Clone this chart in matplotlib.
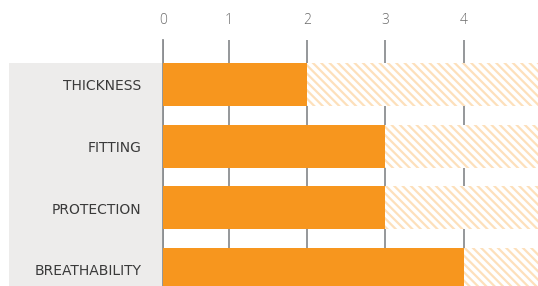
import matplotlib.pyplot as plt
from matplotlib.patches import Rectangle
from matplotlib.transforms import ScaledTranslation

categories = ['THICKNESS', 'FITTING', 'PROTECTION', 'BREATHABILITY']
scores = [2, 3, 3, 4]
max_score = 5
tick_values = [1, 2, 3, 4]
tick_labels = ['0', '1', '2', '3', '4']

plt.rcParams['hatch.linewidth'] = 1.6

W, H = 538, 286
fig = plt.figure(figsize=(W / 100, H / 100), dpi=100)

# gray label panel behind the category names
fig.patches.append(Rectangle((9 / W, 0), (163 - 9) / W, (H - 63) / H,
                             transform=fig.transFigure, facecolor='#edeceb',
                             edgecolor='none', zorder=-1))

ax = fig.add_axes([163 / W, 0, 1 - 163 / W, (H - 40) / H])
ax.patch.set_alpha(0)

y = range(len(categories))
bar_h = 43 / 61.6

# hatched "rest of the scale" background
ax.barh(y, [max_score] * len(categories), height=bar_h, color='white',
        edgecolor='#fde0bb', linewidth=0, hatch='\\\\\\\\', zorder=2)
ax.barh(y, scores, height=bar_h, color='#f7961e', linewidth=0, zorder=3)

x_left = (163 - 150.5) / 78.3
x_right = (538 - 150.5) / 78.3
ax.set_xlim(x_left, x_right)
ax.set_ylim(3 + 16.7 / 61.6, -44.5 / 61.6)

ax.xaxis.tick_top()
ax.set_xticks([x_left] + tick_values)
ax.set_xticklabels(tick_labels, fontsize=10, color='#6b6b6b',
                   family='Open Sans', fontweight='light')
ax.tick_params(axis='x', length=0, pad=9)
ax.grid(axis='x', color='#8c8f92', linewidth=1.3, zorder=1)
ax.set_axisbelow(True)

ax.set_yticks(list(y))
ax.set_yticklabels(categories, fontsize=10, color='#3a3a3a', family='DejaVu Sans')
ax.tick_params(axis='y', length=0, pad=15.5)
shift = ScaledTranslation(0, -2 / 100, fig.dpi_scale_trans)
for lbl in ax.get_yticklabels():
    lbl.set_va('center')
    lbl.set_transform(lbl.get_transform() + shift)

for s in ['top', 'right', 'bottom']:
    ax.spines[s].set_visible(False)
ax.spines['left'].set_color('#8c8f92')
ax.spines['left'].set_linewidth(1.3)

fig.savefig('out.png', dpi=100)
